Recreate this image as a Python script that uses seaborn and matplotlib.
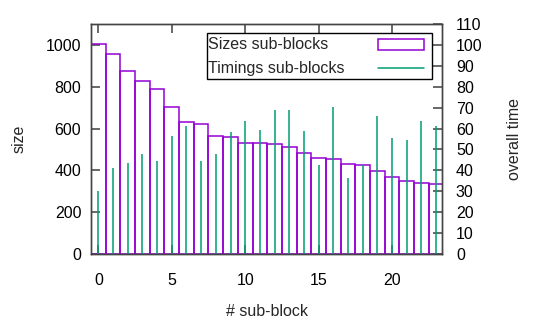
import matplotlib
matplotlib.use("Agg")
import matplotlib.pyplot as plt
from matplotlib.patches import Rectangle
from matplotlib.lines import Line2D
import seaborn as sns

# --- data ---
sub_block = list(range(24))
sizes = [1005, 955, 877, 829, 789, 702, 630, 621, 562, 560, 532, 530,
         527, 513, 482, 460, 454, 430, 425, 398, 368, 347, 341, 336]
timings = [30, 41, 43.5, 48, 44.5, 56.5, 61, 44.5, 48, 58.5, 63.5, 59.5,
           69, 69, 59, 42.5, 70.5, 36.5, 42.5, 66, 55.5, 54.5, 63.5, 61]
x_ticks = [0, 5, 10, 15, 20]
size_ticks = [0, 200, 400, 600, 800, 1000]
time_ticks = list(range(0, 111, 10))

PURPLE = "#9400d3"
GREEN = "#009e73"
FS = 11.5

sns.set_theme(style="ticks", rc={
    "xtick.direction": "in", "ytick.direction": "in",
    "xtick.major.size": 6.5, "ytick.major.size": 6.5,
    "xtick.color": "#555555", "ytick.color": "#555555",
    "xtick.labelcolor": "black", "ytick.labelcolor": "black",
})
plt.rcParams["font.family"] = ["Liberation Sans", "DejaVu Sans"]

fig = plt.figure(figsize=(5.45, 3.27), dpi=100)
ax = fig.add_axes([0.167, 0.2232, 0.644, 0.7034])

sns.barplot(x=sub_block, y=sizes, native_scale=True, width=1, fill=False,
            color=PURPLE, linewidth=1.1, errorbar=None, ax=ax)
for p in ax.patches:
    p.set_edgecolor(PURPLE)

ax2 = ax.twinx()
ax2.vlines(sub_block, 0, timings, color=GREEN, linewidth=1.1)

ax.set_xlim(-0.5, 23.4)
ax.set_ylim(0, 1100)
ax2.set_ylim(0, 110)
ax.set_xticks(x_ticks)
ax.set_xticklabels([str(t) for t in x_ticks], fontsize=FS)
ax.set_yticks(size_ticks)
ax.set_yticklabels([str(t) for t in size_ticks], fontsize=FS)
ax2.set_yticks(time_ticks)
ax2.set_yticklabels([str(t) for t in time_ticks], fontsize=FS)
ax.tick_params(axis="x", top=True, bottom=True, pad=14)
ax.tick_params(axis="y", left=True, right=False, pad=7)
ax2.tick_params(axis="y", right=True, left=False, pad=10)

for a in (ax, ax2):
    for s in a.spines.values():
        s.set_color("#444444")
        s.set_linewidth(1.0)

ax.set_xlabel("# sub-block", fontsize=FS)
ax.xaxis.label.set_va("center")
ax.xaxis.set_label_coords(0.5, -0.251)
ax.set_ylabel("size", fontsize=FS)
ax.yaxis.label.set_va("center")
ax.yaxis.set_label_coords(-0.205, 0.5)
ax2.set_ylabel("overall time", fontsize=FS)
ax2.yaxis.label.set_va("center")
ax2.yaxis.set_label_coords(1.208, 0.5)
ax2.set_xlabel("")

# gnuplot-style key: text on the left, sample on the right
ax2.add_patch(Rectangle((0.33, 0.7596), 0.642, 0.2, transform=ax2.transAxes,
                        fill=True, facecolor="white", edgecolor="black",
                        linewidth=1.0, zorder=5))
ax2.text(0.3335, 0.909, "Sizes sub-blocks", transform=ax2.transAxes,
         ha="left", va="center", fontsize=FS, zorder=6)
ax2.text(0.3335, 0.807, "Timings sub-blocks", transform=ax2.transAxes,
         ha="left", va="center", fontsize=FS, zorder=6)
ax2.add_patch(Rectangle((0.817, 0.886), 0.131, 0.047, transform=ax2.transAxes,
                        fill=False, edgecolor=PURPLE, linewidth=1.1, zorder=6))
ax2.add_line(Line2D([0.817, 0.948], [0.81, 0.81], transform=ax2.transAxes,
                    color=GREEN, linewidth=1.1, zorder=6))

fig.savefig("out.png", dpi=100)
